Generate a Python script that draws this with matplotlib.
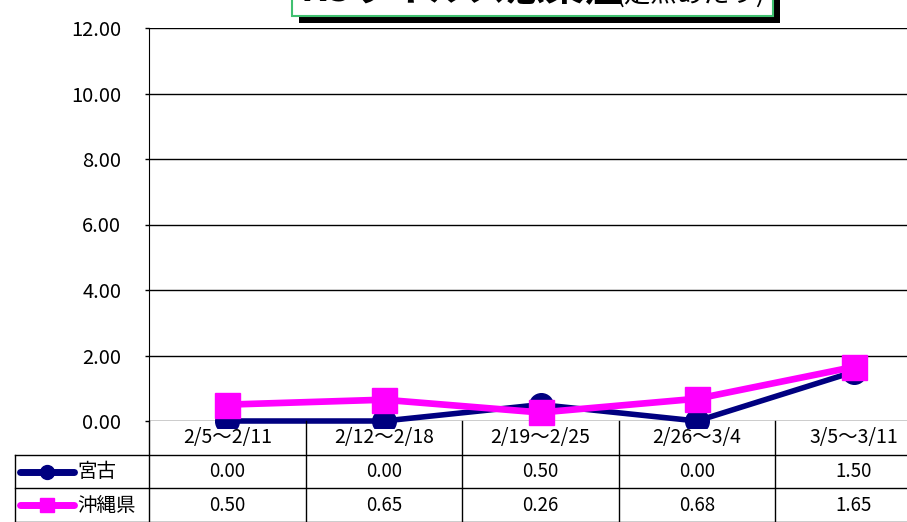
import matplotlib
matplotlib.use("Agg")
import matplotlib.pyplot as plt
from matplotlib.patches import Rectangle

plt.rcParams['font.family'] = ['Noto Sans CJK JP', 'DejaVu Sans']

# data
weeks = ['2/5〜2/11', '2/12〜2/18', '2/19〜2/25', '2/26〜3/4', '3/5〜3/11']
miyako = [0.00, 0.00, 0.50, 0.00, 1.50]
okinawa = [0.50, 0.65, 0.26, 0.68, 1.65]
series_names = ['宮古', '沖縄県']
y_ticks = [0, 2, 4, 6, 8, 10, 12]
title_main = 'RSウイルス感染症'
title_sub = '(定点あたり)'

W, H = 907, 522
NAVY = '#000080'
MAGENTA = '#FF00FF'


def fx(px):
    return px / W


def fy(py):
    # pixel row from the top -> figure fraction
    return 1 - py / H


def main():
    fig = plt.figure(figsize=(W / 100, H / 100), dpi=100)

    # plot area: left at 149px, zero line at 421px, top at 28px, last column runs past the edge
    left, right, top, bottom = 149, 932, 28, 421
    ax = fig.add_axes([fx(left), fy(bottom), fx(right - left), fy(top) - fy(bottom)])
    n = len(weeks)
    xs = list(range(n))
    ax.set_xlim(-0.5, n - 0.5)
    ax.set_ylim(0, 12)
    ax.set_yticks(y_ticks)
    ax.set_yticklabels([f'{v:.2f}' for v in y_ticks], fontsize=14.5)
    ax.set_xticks([])
    ax.tick_params(axis='y', direction='out', length=3, width=1, pad=17, colors='black')
    for s in ['top', 'right', 'bottom']:
        ax.spines[s].set_visible(False)
    ax.spines['left'].set_color('black')
    for v in y_ticks:
        ax.axhline(v, color='black', lw=1, zorder=1)

    # markers spill a little below the zero line before being cut
    clip = Rectangle((fx(left), fy(428)), fx(right - left), fy(0) - fy(428),
                     transform=fig.transFigure, facecolor='none', edgecolor='none')
    l1, = ax.plot(xs, miyako, color=NAVY, lw=4, marker='o', ms=17, zorder=3)
    l2, = ax.plot(xs, okinawa, color=MAGENTA, lw=4.8, marker='s', ms=18, zorder=4)
    for ln in (l1, l2):
        ln.set_clip_path(clip)

    # data table under the plot
    colw = (right - left) / n
    legl = 15
    tab = fig.add_axes([fx(legl), 0, fx(right - legl), fy(bottom)])
    xl = -0.5 - (left - legl) / colw
    tab.set_xlim(xl, n - 0.5)
    tab.set_ylim(0, 3)
    tab.axis('off')

    def px2x(px):
        return (px - left) / colw - 0.5

    lkw = dict(color='black', lw=1, clip_on=False)
    for i in range(n + 1):
        tab.plot([i - 0.5, i - 0.5], [0, 3], **lkw)
    tab.plot([xl, xl], [0, 2], **lkw)
    tab.plot([xl, n - 0.5], [2, 2], **lkw)
    tab.plot([xl, n - 0.5], [1, 1], **lkw)
    tab.plot([xl, n - 0.5], [0.01, 0.01], **lkw)

    for i, w in enumerate(weeks):
        tab.text(i, 2.5, w, ha='center', va='center', fontsize=14)
    rows = [miyako, okinawa]
    colors = [NAVY, MAGENTA]
    markers = ['o', 's']
    for r, (vals, name, c, m) in enumerate(zip(rows, series_names, colors, markers)):
        yc = 1.5 - r
        for i, v in enumerate(vals):
            tab.text(i, yc, f'{v:.2f}', ha='center', va='center', fontsize=13.5)
        tab.plot([px2x(20), px2x(74)], [yc, yc], color=c, lw=5, solid_capstyle='round', clip_on=False)
        tab.plot([px2x(47)], [yc], color=c, marker=m, ms=10, clip_on=False)
        tab.text(px2x(77), yc, name, ha='left', va='center', fontsize=14)

    # title box, mostly above the top edge
    bx0, bx1, by1 = 292, 773, 16
    fig.patches.append(Rectangle((fx(bx0 + 7), fy(by1 + 7)), fx(bx1 - bx0), fy(-40) - fy(by1),
                                 transform=fig.transFigure, facecolor='black', edgecolor='none'))
    fig.patches.append(Rectangle((fx(bx0), fy(by1)), fx(bx1 - bx0), fy(-40) - fy(by1),
                                 transform=fig.transFigure, facecolor='white', edgecolor='#40c070', lw=1.5))
    fig.text(fx(300), fy(1), title_main, ha='left', va='baseline', fontsize=28, fontweight='bold')
    fig.text(fx(616), fy(2), title_sub, ha='left', va='baseline', fontsize=19)

    fig.savefig('out.png', dpi=100)


if __name__ == "__main__":
    main()
